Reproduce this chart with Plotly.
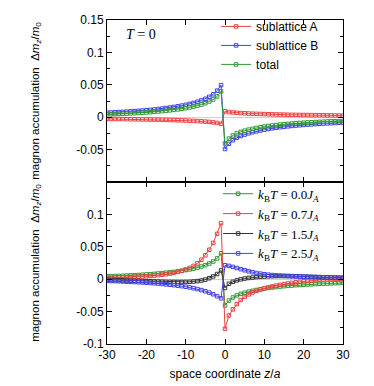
import plotly.graph_objects as go
from plotly.subplots import make_subplots

# space coordinate z/a, one site per unit from -30 to 30
z = list(range(-30, 31))

# top panel, T = 0 --------------------------------------------------------------
sub_a = [
    -0.0025, -0.0026, -0.0027, -0.0028, -0.0029, -0.0030, -0.0031, -0.0032, -0.0033, -0.0034,
    -0.0035, -0.0036, -0.0037, -0.0038, -0.0040, -0.0041, -0.0043, -0.0045, -0.0047, -0.0049,
    -0.0051, -0.0054, -0.0057, -0.0060, -0.0064, -0.0068, -0.0073, -0.0080, -0.0089, -0.0102,
    0.0092, 0.0080, 0.0073, 0.0068, 0.0064, 0.0060, 0.0057, 0.0054, 0.0052, 0.0050,
    0.0048, 0.0046, 0.0044, 0.0042, 0.0041, 0.0040, 0.0038, 0.0037, 0.0036, 0.0035,
    0.0034, 0.0033, 0.0032, 0.0031, 0.0030, 0.0029, 0.0028, 0.0028, 0.0027, 0.0026, 0.0025,
]
sub_b = [
    0.0070, 0.0073, 0.0076, 0.0079, 0.0082, 0.0086, 0.0090, 0.0094, 0.0098, 0.0103,
    0.0108, 0.0113, 0.0119, 0.0126, 0.0133, 0.0141, 0.0149, 0.0158, 0.0168, 0.0179,
    0.0191, 0.0205, 0.0220, 0.0238, 0.0259, 0.0284, 0.0315, 0.0353, 0.0410, 0.0495,
    -0.0490, -0.0410, -0.0355, -0.0318, -0.0290, -0.0268, -0.0249, -0.0233, -0.0218, -0.0205,
    -0.0193, -0.0182, -0.0172, -0.0163, -0.0155, -0.0148, -0.0141, -0.0135, -0.0129, -0.0124,
    -0.0119, -0.0114, -0.0110, -0.0106, -0.0102, -0.0098, -0.0095, -0.0092, -0.0089, -0.0086, -0.0083,
]
total = [
    0.0045, 0.0047, 0.0049, 0.0051, 0.0053, 0.0056, 0.0059, 0.0062, 0.0065, 0.0069,
    0.0073, 0.0077, 0.0082, 0.0088, 0.0093, 0.0100, 0.0106, 0.0113, 0.0121, 0.0130,
    0.0140, 0.0151, 0.0163, 0.0178, 0.0195, 0.0216, 0.0242, 0.0273, 0.0321, 0.0400,
    -0.0405, -0.0330, -0.0282, -0.0250, -0.0226, -0.0208, -0.0192, -0.0179, -0.0166, -0.0155,
    -0.0145, -0.0136, -0.0128, -0.0121, -0.0114, -0.0108, -0.0103, -0.0098, -0.0093, -0.0089,
    -0.0085, -0.0081, -0.0078, -0.0075, -0.0072, -0.0069, -0.0067, -0.0064, -0.0062, -0.0060, -0.0058,
]

# bottom panel, finite temperature ----------------------------------------------
kt_07 = [
    0.0020, 0.0022, 0.0024, 0.0026, 0.0028, 0.0030, 0.0032, 0.0035, 0.0038, 0.0041,
    0.0045, 0.0050, 0.0055, 0.0061, 0.0068, 0.0076, 0.0086, 0.0098, 0.0113, 0.0130,
    0.0150, 0.0174, 0.0205, 0.0245, 0.0300, 0.0370, 0.0455, 0.0560, 0.0700, 0.0865,
    -0.0765, -0.0560, -0.0465, -0.0385, -0.0320, -0.0272, -0.0235, -0.0205, -0.0180, -0.0160,
    -0.0142, -0.0126, -0.0112, -0.0099, -0.0087, -0.0076, -0.0066, -0.0057, -0.0048, -0.0040,
    -0.0033, -0.0026, -0.0020, -0.0014, -0.0009, -0.0005, -0.0001, 0.0002, 0.0005, 0.0007, 0.0009,
]
kt_15 = [
    -0.0010, -0.0012, -0.0014, -0.0016, -0.0018, -0.0020, -0.0022, -0.0024, -0.0026, -0.0028,
    -0.0030, -0.0032, -0.0034, -0.0036, -0.0038, -0.0040, -0.0041, -0.0042, -0.0043, -0.0043,
    -0.0042, -0.0040, -0.0036, -0.0030, -0.0020, -0.0006, 0.0015, 0.0043, 0.0080, 0.0135,
    -0.0135, -0.0070, -0.0040, -0.0018, -0.0002, 0.0010, 0.0019, 0.0026, 0.0032, 0.0037,
    0.0041, 0.0044, 0.0046, 0.0048, 0.0049, 0.0049, 0.0049, 0.0048, 0.0046, 0.0044,
    0.0041, 0.0039, 0.0037, 0.0035, 0.0033, 0.0031, 0.0029, 0.0027, 0.0025, 0.0023, 0.0021,
]
kt_25 = [
    -0.0026, -0.0028, -0.0030, -0.0032, -0.0035, -0.0038, -0.0041, -0.0044, -0.0047, -0.0050,
    -0.0054, -0.0058, -0.0063, -0.0068, -0.0074, -0.0080, -0.0086, -0.0092, -0.0100, -0.0108,
    -0.0117, -0.0127, -0.0139, -0.0152, -0.0168, -0.0186, -0.0207, -0.0232, -0.0262, -0.0295,
    0.0215, 0.0205, 0.0190, 0.0173, 0.0155, 0.0138, 0.0122, 0.0108, 0.0096, 0.0086,
    0.0077, 0.0070, 0.0064, 0.0059, 0.0055, 0.0051, 0.0048, 0.0045, 0.0042, 0.0040,
    0.0038, 0.0036, 0.0034, 0.0032, 0.0030, 0.0029, 0.0027, 0.0026, 0.0025, 0.0024, 0.0023,
]

x_ticks = [-30, -20, -10, 0, 10, 20, 30]
x_text = ["-30", "-20", "-10", "0", "10", "20", "30"]
top_yticks = [-0.05, 0, 0.05, 0.1, 0.15]
top_ytext = ["-0.05", "0", "0.05", "0.1", "0.15"]
bot_yticks = [-0.1, -0.05, 0, 0.05, 0.1]
bot_ytext = ["-0.1", "-0.05", "0", "0.05", "0.1"]

RED = "#ee4040"
BLUE = "#4040ee"
GREEN = "#2f9a2f"
BLACK = "#333333"

SANS = "Liberation Sans"
SERIF = "Liberation Serif"

top_series = [
    ("sublattice A", sub_a, RED),
    ("sublattice B", sub_b, BLUE),
    ("total", total, GREEN),
]
bot_series = [
    ("<i>k</i><sub>B</sub><i>T</i> = 0.0<i>J</i><sub><i>A</i></sub>", total, GREEN),
    ("<i>k</i><sub>B</sub><i>T</i> = 0.7<i>J</i><sub><i>A</i></sub>", kt_07, RED),
    ("<i>k</i><sub>B</sub><i>T</i> = 1.5<i>J</i><sub><i>A</i></sub>", kt_15, BLACK),
    ("<i>k</i><sub>B</sub><i>T</i> = 2.5<i>J</i><sub><i>A</i></sub>", kt_25, BLUE),
]

fig = make_subplots(rows=2, cols=1, shared_xaxes=True, vertical_spacing=0)


def _trace(name, vals, color, legend):
    return go.Scatter(
        x=z, y=vals, name=name, mode="lines+markers",
        line=dict(color=color, width=1),
        marker=dict(symbol="square-open", size=3.5, color=color, line=dict(width=1, color=color)),
        legend=legend,
    )


for name, vals, color in top_series:
    fig.add_trace(_trace(name, vals, color, "legend"), row=1, col=1)
for name, vals, color in bot_series:
    fig.add_trace(_trace(name, vals, color, "legend2"), row=2, col=1)

ytitle = "magnon accumulation  Δ<i>m</i><sub><i>z</i></sub>/<i>m</i><sub>0</sub>"

axis_common = dict(
    showline=True, linecolor="black", linewidth=1, mirror="allticks",
    ticks="inside", ticklen=5, tickcolor="black", showgrid=False, automargin=False,
    tickfont=dict(family=SANS, size=12, color="black"),
)

fig.update_xaxes(range=[-30, 30], tickvals=x_ticks, ticktext=x_text, zeroline=False, **axis_common)
fig.update_xaxes(showticklabels=False, row=1, col=1)
fig.update_xaxes(
    title=dict(text="space coordinate <i>z</i>/<i>a</i>", font=dict(family=SANS, size=12, color="black"), standoff=8),
    row=2, col=1,
)

y_common = dict(
    range=[-0.1, 0.15], zeroline=True, zerolinecolor="#d0d0d0", zerolinewidth=1,
    minor=dict(tickmode="linear", tick0=0, dtick=0.025, ticks="inside", ticklen=3, tickcolor="black"),
    title=dict(text=ytitle, font=dict(family=SANS, size=11.5, color="black"), standoff=34),
    **axis_common,
)
fig.update_yaxes(tickvals=top_yticks, ticktext=top_ytext, row=1, col=1, **y_common)
fig.update_yaxes(tickvals=bot_yticks, ticktext=bot_ytext, row=2, col=1, **y_common)

fig.add_annotation(
    text="<i>T</i> = 0", xref="x domain", yref="y domain", x=0.07, y=0.97,
    xanchor="left", yanchor="top", showarrow=False,
    font=dict(family=SERIF, size=14, color="black"),
)

fig.update_layout(
    width=374, height=386,
    margin=dict(l=107, r=31, t=15, b=42),
    paper_bgcolor="white", plot_bgcolor="white",
    showlegend=True,
    legend=dict(
        x=0.92, y=1.025, xanchor="right", yanchor="top", bgcolor="rgba(0,0,0,0)",
        font=dict(family=SANS, size=12, color="black"), itemwidth=30, tracegroupgap=0,
    ),
    legend2=dict(
        x=0.92, y=0.51, xanchor="right", yanchor="top", bgcolor="rgba(0,0,0,0)",
        font=dict(family=SERIF, size=13, color="black"), itemwidth=30, tracegroupgap=0,
    ),
)

fig.write_html(
    "out.html",
    config={"displayModeBar": False},
    post_script="document.body.style.margin = '0';",
)
